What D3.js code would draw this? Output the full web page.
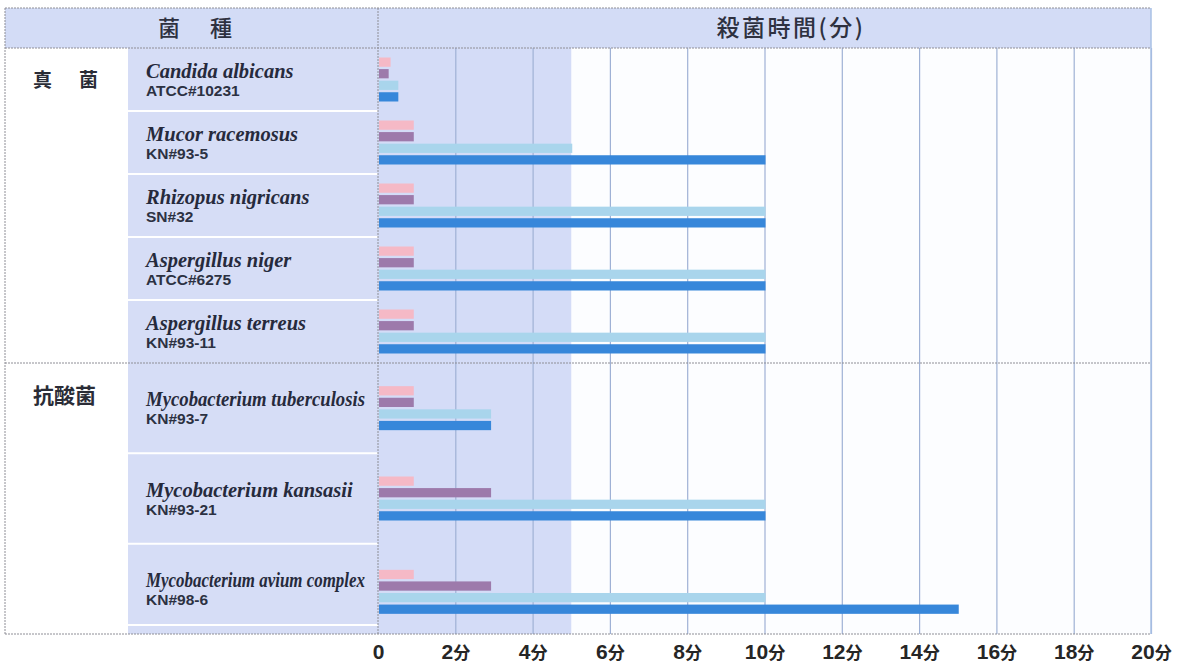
<!DOCTYPE html>
<html>
<head>
<meta charset="utf-8">
<script src="https://cdn.jsdelivr.net/npm/d3@7"></script>
<style>
  body { margin: 0; background: #fff; }
  svg { display: block; }
</style>
</head>
<body>
<script>
// chart data
const groups = ["真　菌", "抗酸菌"];
const species = ["Candida albicans", "Mucor racemosus", "Rhizopus nigricans", "Aspergillus niger",
  "Aspergillus terreus", "Mycobacterium tuberculosis", "Mycobacterium kansasii", "Mycobacterium avium complex"];
const strains = ["ATCC#10231", "KN#93-5", "SN#32", "ATCC#6275", "KN#93-11", "KN#93-7", "KN#93-21", "KN#98-6"];
const speciesGroup = [0, 0, 0, 0, 0, 1, 1, 1];
const series = ["a", "b", "c", "d"];
const valuesA = [0.3, 0.9, 0.9, 0.9, 0.9, 0.9, 0.9, 0.9];
const valuesB = [0.25, 0.9, 0.9, 0.9, 0.9, 0.9, 2.9, 2.9];
const valuesC = [0.5, 5, 10, 10, 10, 2.9, 10, 10];
const valuesD = [0.5, 10, 10, 10, 10, 2.9, 10, 15];
const tickValues = [0, 2, 4, 6, 8, 10, 12, 14, 16, 18, 20];
const shadeUpTo = 5;
const headerLeft = "菌　種";
const headerRight = "殺菌時間(分)";
const unit = "分";

const colors = { a: "#f5b9c6", b: "#9d7aab", c: "#a9d5ec", d: "#3787da" };
const allValues = [valuesA, valuesB, valuesC, valuesD];

// layout
const W = 1180, H = 665;
const tblLeft = 5, tblRight = 1151, tblTop = 8, headBottom = 48, tblBottom = 634;
const catCol = 128, zeroX = 378, groupSplit = 363;

const svg = d3.select("body").append("svg")
  .attr("width", W).attr("height", H);

const x = d3.scaleLinear().domain([0, 20]).range([zeroX, tblRight]);

// header band
svg.append("rect")
  .attr("x", tblLeft).attr("y", tblTop)
  .attr("width", tblRight - tblLeft).attr("height", headBottom - tblTop)
  .attr("fill", "#d3dcf6");

// body backgrounds
svg.append("rect")
  .attr("x", catCol).attr("y", headBottom)
  .attr("width", zeroX - catCol).attr("height", tblBottom - headBottom)
  .attr("fill", "#d6ddf6");
svg.append("rect")
  .attr("x", zeroX).attr("y", headBottom)
  .attr("width", tblRight - zeroX).attr("height", tblBottom - headBottom)
  .attr("fill", "#fcfdff");
svg.append("rect")
  .attr("x", zeroX).attr("y", headBottom)
  .attr("width", x(shadeUpTo) - zeroX).attr("height", tblBottom - headBottom)
  .attr("fill", "#d4dcf7");

// row scales, one per group
const rows = species.map((s, i) => ({ i, name: s, strain: strains[i], group: speciesGroup[i] }));
const groupRanges = [[headBottom, groupSplit], [groupSplit, tblBottom]];
const yScales = groups.map((g, gi) => d3.scaleBand()
  .domain(rows.filter(r => r.group === gi).map(r => r.i))
  .range(groupRanges[gi]));
const rowTop = r => yScales[r.group](r.i);
const rowH = r => yScales[r.group].bandwidth();
const rowMid = r => rowTop(r) + rowH(r) / 2;

// white separators in species column
svg.append("g").selectAll("line")
  .data(rows.filter(r => rowTop(r) > headBottom + 1 && rowTop(r) !== groupSplit))
  .join("line")
  .attr("x1", catCol).attr("x2", zeroX)
  .attr("y1", r => rowTop(r)).attr("y2", r => rowTop(r))
  .attr("stroke", "#fff").attr("stroke-width", 2);
svg.append("line")
  .attr("x1", catCol).attr("x2", zeroX)
  .attr("y1", tblBottom - 9).attr("y2", tblBottom - 9)
  .attr("stroke", "#fff").attr("stroke-width", 2);

// gridlines
const grid = svg.append("g")
  .attr("transform", "translate(0," + tblBottom + ")")
  .call(d3.axisBottom(x).tickValues(tickValues.slice(1)).tickSize(-(tblBottom - headBottom)).tickFormat(""));
grid.select(".domain").remove();
grid.selectAll(".tick line").attr("stroke", "#9fb1d5").attr("stroke-width", 1.2);

// bars
const inner = d3.scaleBand().domain(series).range([-22, 22]).paddingInner(0.2);
const barData = [];
rows.forEach(r => series.forEach((s, si) => barData.push({ r, s, v: allValues[si][r.i] })));
svg.append("g").selectAll("rect")
  .data(barData)
  .join("rect")
  .attr("x", x(0) + 1)
  .attr("y", d => rowMid(d.r) + inner(d.s) + (d.r.i === species.length - 1 ? 3 : 0))
  .attr("width", d => x(d.v) - x(0))
  .attr("height", inner.bandwidth())
  .attr("fill", d => colors[d.s]);

// dashed borders
const dash = (x1, y1, x2, y2) => svg.append("line")
  .attr("x1", x1).attr("y1", y1).attr("x2", x2).attr("y2", y2)
  .attr("stroke", "#8e8e96").attr("stroke-width", 1).attr("stroke-dasharray", "2,1");
dash(tblLeft, tblTop, tblRight, tblTop);
dash(tblLeft, headBottom, tblRight, headBottom);
dash(tblLeft, groupSplit, tblRight, groupSplit);
dash(tblLeft, tblBottom, tblRight, tblBottom);
dash(tblLeft, tblTop, tblLeft, tblBottom);
dash(zeroX, tblTop, zeroX, tblBottom);
svg.append("line")
  .attr("x1", tblRight).attr("y1", tblTop).attr("x2", tblRight).attr("y2", tblBottom)
  .attr("stroke", "#a8c0e4").attr("stroke-width", 1.5);

// header texts
const cjk = "'Noto Sans CJK JP', 'Noto Sans CJK SC', sans-serif";
svg.append("text")
  .attr("x", 197).attr("y", 36)
  .attr("text-anchor", "middle")
  .attr("font-family", cjk).attr("font-size", 22).attr("font-weight", 500)
  .attr("letter-spacing", 4)
  .attr("fill", "#2e3140")
  .text(headerLeft);
svg.append("text")
  .attr("x", 791).attr("y", 36)
  .attr("text-anchor", "middle")
  .attr("font-family", cjk).attr("font-size", 23).attr("font-weight", 500)
  .attr("letter-spacing", 2.5)
  .attr("fill", "#2e3140")
  .text(headerRight);

// group labels
svg.append("g").selectAll("text")
  .data(groups)
  .join("text")
  .attr("x", 33)
  .attr("y", (g, gi) => groupRanges[gi][0] + (gi === 0 ? 39 : 40))
  .attr("font-family", cjk).attr("font-size", (g, gi) => gi === 0 ? 19 : 21).attr("font-weight", 700)
  .attr("letter-spacing", (g, gi) => gi === 0 ? 4 : 0)
  .attr("fill", "#2a2c36")
  .text(g => g);

// species names + strains
const maxW = 219;
svg.append("g").selectAll("text")
  .data(rows)
  .join("text")
  .attr("x", 146)
  .attr("y", r => rowMid(r) - 2)
  .attr("font-family", "'Liberation Serif', 'Times New Roman', serif")
  .attr("font-style", "italic").attr("font-weight", 700).attr("font-size", 20.5)
  .attr("fill", "#262a3c")
  .text(r => r.name)
  .each(function () {
    if (this.getComputedTextLength() > maxW) {
      d3.select(this).attr("textLength", maxW).attr("lengthAdjust", "spacingAndGlyphs");
    }
  });
svg.append("g").selectAll("text")
  .data(rows)
  .join("text")
  .attr("x", 146)
  .attr("y", r => rowMid(r) + 16)
  .attr("font-family", "'Liberation Sans', Arial, sans-serif")
  .attr("font-weight", 700).attr("font-size", 15.5)
  .attr("fill", "#2c3142")
  .text(r => r.strain);

// bottom axis labels
const axis = svg.append("g")
  .attr("transform", "translate(0," + tblBottom + ")")
  .call(d3.axisBottom(x).tickValues(tickValues).tickSize(0).tickPadding(0));
axis.select(".domain").remove();
axis.selectAll(".tick text")
  .attr("dy", null).attr("y", 25)
  .attr("fill", "#262626")
  .attr("font-family", "'Liberation Sans', Arial, sans-serif")
  .attr("font-weight", 700)
  .each(function (d) {
    const t = d3.select(this).text("");
    t.append("tspan").attr("font-size", 21).text(d);
    if (d !== 0) t.append("tspan").attr("font-size", 17).attr("font-family", cjk).text(unit);
  });
</script>
</body>
</html>
